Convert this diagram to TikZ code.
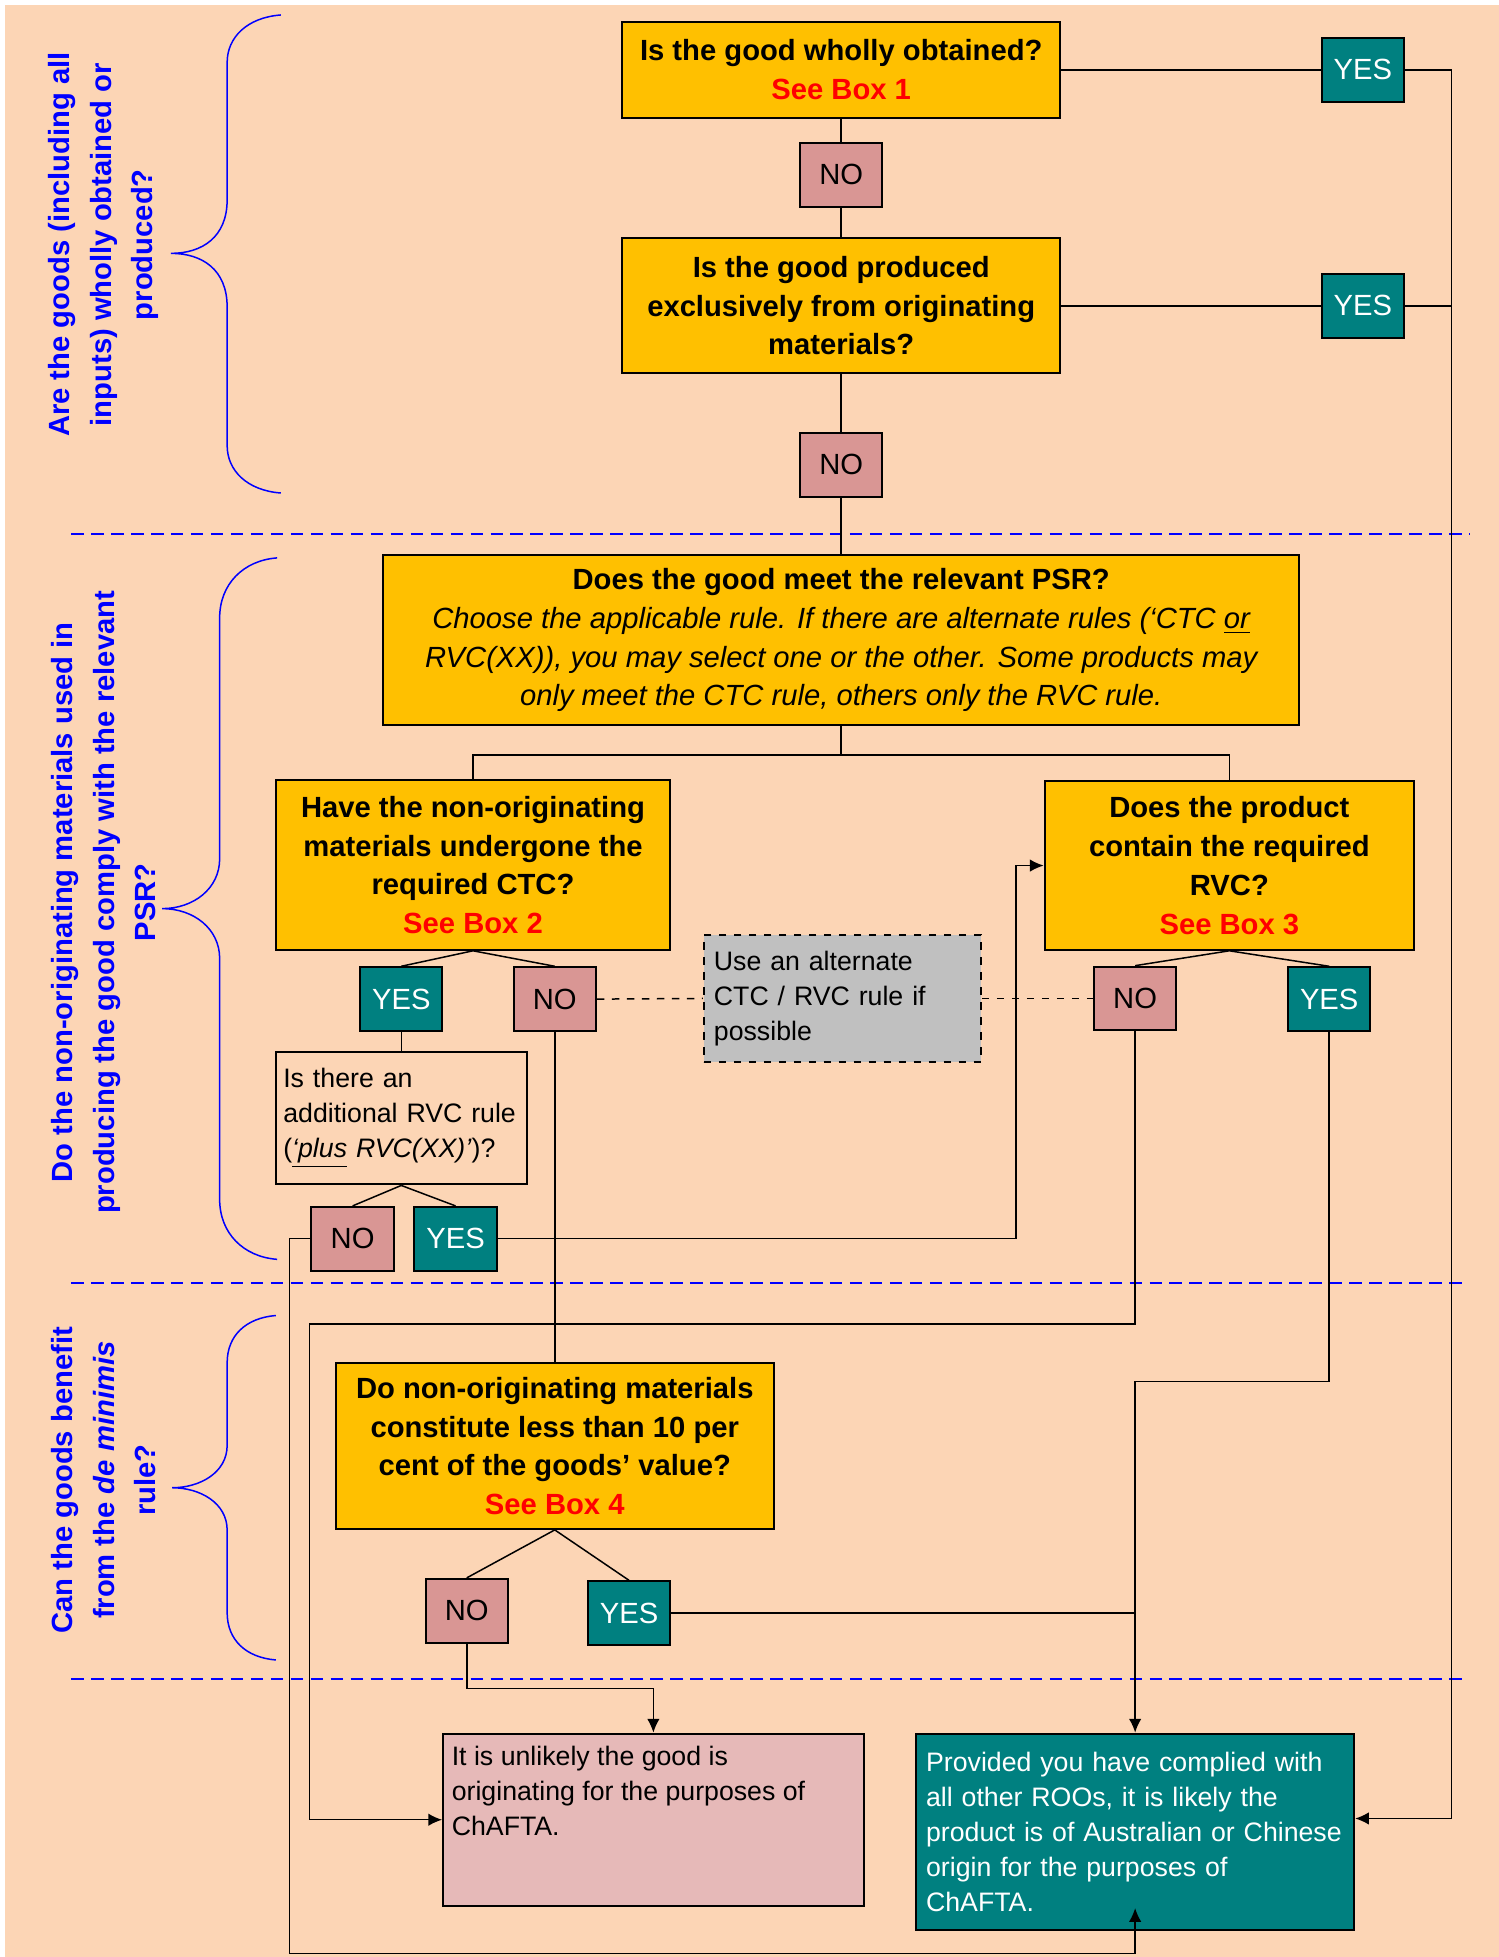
\documentclass[tikz,border=0pt]{standalone}
\usepackage{fontspec}
\setmainfont{Liberation Sans}
\usetikzlibrary{arrows.meta}
\definecolor{peach}{HTML}{FCD5B5}
\definecolor{qyellow}{HTML}{FFC000}
\definecolor{nopink}{HTML}{D99694}
\definecolor{yesteal}{HTML}{008080}
\definecolor{failpink}{HTML}{E6B9B8}
\definecolor{altgrey}{HTML}{C0C0C0}
\newcommand{\bigfont}{\fontsize{11.7}{15.5}\selectfont}
\newcommand{\smallfont}{\fontsize{10.7}{14}\selectfont}
\newcommand{\seebox}[1]{\textcolor{red}{See Box #1}}

\begin{document}
\begin{tikzpicture}[x=0.5pt, y=-0.5pt, >={Latex[length=5.5pt,width=5pt]},
    every node/.style={inner sep=0pt},
    question/.style={draw, line width=0.8pt, fill=qyellow, align=center, font=\bigfont\bfseries},
    nobox/.style={draw, line width=0.8pt, fill=nopink, minimum width=33pt, minimum height=25.5pt, font=\bigfont},
    yesbox/.style={nobox, fill=yesteal, text=white},
    note/.style={draw, line width=0.8pt, align=left, font=\smallfont, inner xsep=4pt},
    side/.style={rotate=90, align=center, text=blue, font=\fontsize{11.7}{16.5}\selectfont\bfseries},
    link/.style={line width=0.6pt},
    stage/.style={blue, line width=0.8pt, dash pattern=on 5pt off 3pt},
    curly/.style={blue, line width=0.6pt}]
  \useasboundingbox (0,0) rectangle (1201,1568);
  \fill[peach] (4,4) rectangle (1201,1568);

  % stage separators
  \draw[stage] (57,428) -- (1178,428);
  \draw[stage] (57,1028) -- (1176,1028);
  \draw[stage] (57,1345) -- (1176,1345);

  % braces
  \draw[curly] (225,12) .. controls (198,14) and (182,30) .. (182,50) -- (182,160) .. controls (182,190) and (162,203) .. (137,203) .. controls (162,203) and (182,216) .. (182,246) -- (182,357) .. controls (182,377) and (198,393) .. (225,395);
  \draw[curly] (222,447) .. controls (195,449) and (176,468) .. (176,495) -- (176,688) .. controls (176,712) and (155,728) .. (130,728) .. controls (155,728) and (176,744) .. (176,768) -- (176,961) .. controls (176,988) and (195,1007) .. (222,1009);
  \draw[curly] (221,1054) .. controls (197,1056) and (182,1070) .. (182,1092) -- (182,1158) .. controls (182,1180) and (160,1192) .. (138,1192) .. controls (160,1192) and (182,1204) .. (182,1226) -- (182,1292) .. controls (182,1314) and (197,1328) .. (221,1330);

  \node[side] (wholly) at (83,196) {Are the goods (including all\\inputs) wholly obtained or\\produced?};
  \node[side] (comply) at (83,723) {Do the non-originating materials used in\\producing the good comply with the relevant\\PSR?};
  \node[side] (minimis) at (83,1186) {Can the goods benefit\\from the \textit{de minimis}\\rule?};

  % questions and answers
  \node[question, minimum width=175.5pt, minimum height=38.5pt] (obt) at (674,56) {Is the good wholly obtained?\\\seebox{1}};
  \node[nobox] (no1) at (674,140) {NO};
  \node[question, minimum width=175.5pt, minimum height=54pt] (excl) at (674,245) {Is the good produced\\exclusively from originating\\materials?};
  \node[nobox] (no2) at (674,372.5) {NO};
  \node[yesbox] (yes1) at (1092,56) {YES};
  \node[yesbox] (yes2) at (1092,245) {YES};
  \node[question, minimum width=367pt, minimum height=68pt] (psr) at (674,513) {Does the good meet the relevant PSR?\\{\mdseries\itshape Choose the applicable rule. If there are alternate rules (‘CTC \underline{or}}\\{\mdseries\itshape RVC(XX)), you may select one or the other. Some products may}\\{\mdseries\itshape only meet the CTC rule, others only the RVC rule.}};
  \node[question, minimum width=158pt, minimum height=68pt] (ctc) at (379,693) {Have the non-originating\\materials undergone the\\required CTC?\\\seebox{2}};
  \node[question, minimum width=148pt, minimum height=67.5pt] (rvc) at (985,693.5) {Does the product\\contain the required\\RVC?\\\seebox{3}};
  \node[yesbox] (yes3) at (321.5,800.5) {YES};
  \node[nobox] (no3) at (444.5,800.5) {NO};
  \node[note, dashed, fill=altgrey, text width=103pt, minimum height=51pt] (alt) at (675,800) {Use an alternate\\CTC / RVC rule if\\possible};
  \node[nobox] (no4) at (909.5,800) {NO};
  \node[yesbox] (yes4) at (1065,800.5) {YES};
  \node[note, fill=peach, inner xsep=3pt, text width=94.5pt, minimum height=53pt] (plus) at (321.5,896) {Is there an\\additional RVC rule\\(\underline{\textit{‘plus}} \textit{RVC(XX)’})?};
  \node[nobox] (no5) at (282.5,992.5) {NO};
  \node[yesbox] (yes5) at (365,992.5) {YES};
  \node[question, minimum width=175.5pt, minimum height=66.5pt] (dmin) at (444.5,1158.5) {Do non-originating materials\\constitute less than 10 per\\cent of the goods’ value?\\\seebox{4}};
  \node[nobox] (no6) at (374,1290.5) {NO};
  \node[yesbox] (yes6) at (504,1292.5) {YES};
  \node[draw, line width=0.8pt, fill=failpink, font=\smallfont, inner xsep=3.5pt, inner ysep=5pt] (fail) at (523.5,1458) {\begin{minipage}[t][59pt][t]{161.5pt}It is unlikely the good is\\originating for the purposes of\\ChAFTA.\end{minipage}};
  \node[note, fill=yesteal, text=white, text width=167.5pt, minimum height=78.5pt] (pass) at (909.5,1467.5) {Provided you have complied with\\all other ROOs, it is likely the\\product is of Australian or Chinese\\origin for the purposes of\\ChAFTA.};

  % connectors
  \draw[link] (obt.south) -- (no1.north);
  \draw[link] (no1.south) -- (excl.north);
  \draw[link] (excl.south) -- (no2.north);
  \draw[link] (no2.south) -- (psr.north);
  \draw[link] (obt.east) -- (yes1.west);
  \draw[link] (excl.east) -- (yes2.west);
  \coordinate (rc) at (1163,1457);
  \draw[link, ->] (yes1.east) -| (rc) -- (rc -| pass.east);
  \draw[link] (yes2.east) -- (yes2.east -| rc);
  \coordinate (split) at (674,605);
  \draw[link] (psr.south) -- (split);
  \draw[link] (ctc.north) |- (split) -| (rvc.north);
  \draw[link] (ctc.south) -- (yes3.north);
  \draw[link] (ctc.south) -- (no3.north);
  \draw[link] (rvc.south) -- (no4.north);
  \draw[link] (rvc.south) -- (yes4.north);
  \draw[link, dashed] (no3.east) -- (alt.west);
  \draw[link, dashed] (alt.east) -- (no4.west);
  \draw[link] (yes3.south) -- (plus.north);
  \draw[link] (plus.south) -- (no5.north);
  \draw[link] (plus.south) -- (yes5.north);
  \coordinate (up) at (814,693.5);
  \draw[link, ->] (yes5.east) -| (up) -- (rvc.west);
  \coordinate (low) at (232,1565);
  \coordinate (tip) at ([yshift=9pt]pass.south);
  \draw[link, ->] (no5.west) -| (low) -| (tip);
  \draw[link] (no3.south) -- (dmin.north);
  \coordinate (cross) at (248,1061);
  \draw[link, ->] (no4.south) |- (cross) |- (fail.west);
  \coordinate (drop) at (909.5,1107);
  \draw[link, ->] (yes4.south) |- (drop) -- (pass.north);
  \draw[link] (dmin.south) -- (no6.north);
  \draw[link] (dmin.south) -- (yes6.north);
  \draw[link] (yes6.east) -- (yes6.east -| pass.north);
  \coordinate (bend) at (523.5,1353);
  \draw[link, ->] (no6.south) |- (bend) -- (fail.north);
\end{tikzpicture}
\end{document}
